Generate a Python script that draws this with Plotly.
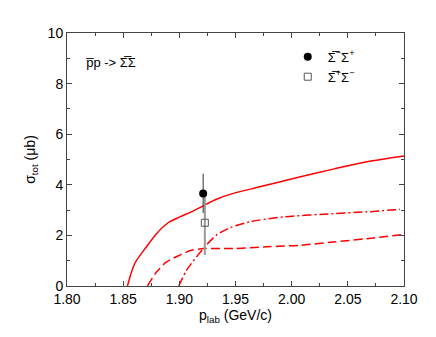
from plotly import graph_objects as go

# model curves
solid_x = [1.8538, 1.8603, 1.8707, 1.8797, 1.890, 1.9004, 1.9108, 1.9212, 1.933, 1.948,
           1.9717, 2.0014, 2.037, 2.0668, 2.1]
solid_y = [0.0, 0.89, 1.55, 2.07, 2.50, 2.73, 2.93, 3.17, 3.43, 3.66,
           3.92, 4.25, 4.62, 4.91, 5.14]

dash_x = [1.8716, 1.8797, 1.8886, 1.9004, 1.9108, 1.9227, 1.948, 1.9777, 2.0074, 2.037,
          2.0668, 2.1]
dash_y = [0.0, 0.55, 0.95, 1.22, 1.41, 1.48, 1.48, 1.55, 1.61, 1.74, 1.87, 2.04]

dashdot_x = [1.8995, 1.9064, 1.9153, 1.9227, 1.933, 1.945, 1.963, 1.9925, 2.037, 2.0668,
             2.0965]
dashdot_y = [0.0, 0.62, 1.15, 1.55, 2.01, 2.30, 2.54, 2.73, 2.86, 2.93, 3.03]

# data points
sm_sp_x = [1.9212]
sm_sp_y = [3.66]
sm_sp_err = [0.78]

sp_sm_x = [1.9227]
sp_sm_y = [2.50]
sp_sm_err = [1.27]

FONT = "Liberation Sans, Arial, sans-serif"

fig = go.Figure()

fig.add_trace(go.Scatter(x=solid_x, y=solid_y, mode="lines", showlegend=False,
                         line=dict(color="#ff0000", width=1.5, shape="spline", smoothing=0.8)))
fig.add_trace(go.Scatter(x=dash_x, y=dash_y, mode="lines", showlegend=False,
                         line=dict(color="#ff0000", width=1.5, dash="9px,4px",
                                   shape="spline", smoothing=0.8)))
fig.add_trace(go.Scatter(x=dashdot_x, y=dashdot_y, mode="lines", showlegend=False,
                         line=dict(color="#ff0000", width=1.5, dash="9px,3px,2px,3px",
                                   shape="spline", smoothing=0.8)))

fig.add_trace(go.Scatter(
    x=sp_sm_x, y=sp_sm_y, mode="markers",
    name="\u03a3\u0305<sup>+</sup>\u03a3<sup>\u2212</sup>",
    marker=dict(symbol="square-open", size=7, color="#555555", line=dict(width=1)),
    error_y=dict(type="data", array=sp_sm_err, color="#999999", thickness=2, width=0),
))
fig.add_trace(go.Scatter(
    x=sm_sp_x, y=sm_sp_y, mode="markers",
    name="\u03a3\u0305<sup>\u2212</sup>\u03a3<sup>+</sup>",
    marker=dict(symbol="circle", size=8, color="black"),
    error_y=dict(type="data", array=sm_sp_err, color="#333333", thickness=1, width=0),
))

fig.add_annotation(
    x=0.05, y=0.885, xref="paper", yref="paper", xanchor="left", yanchor="middle",
    text="p\u0305p -> \u03a3\u0305\u03a3", showarrow=False,
    font=dict(family=FONT, size=13, color="black"),
)

axis_common = dict(
    showgrid=False,
    zeroline=False,
    showline=True,
    linecolor="#444444",
    linewidth=1,
    mirror="allticks",
    ticks="inside",
    ticklen=5,
    tickcolor="#444444",
    tickfont=dict(family=FONT, size=14, color="black"),
)

# page body adds an 8px margin, so the figure is a bit smaller and shifted
fig.update_layout(
    width=428,
    height=329,
    plot_bgcolor="white",
    paper_bgcolor="white",
    margin=dict(l=59, r=32, t=25, b=51),
    xaxis=dict(
        range=[1.8, 2.1],
        dtick=0.05,
        tickformat=".2f",
        minor=dict(dtick=0.025, ticks="inside", ticklen=3, tickcolor="#444444"),
        title=dict(text="p<sub>lab</sub> (GeV/c)",
                   font=dict(family=FONT, size=14, color="black"), standoff=0),
        **axis_common,
    ),
    yaxis=dict(
        range=[0, 10],
        dtick=2,
        minor=dict(dtick=1, ticks="inside", ticklen=3, tickcolor="#444444"),
        title=dict(text="\u03c3<sub>tot</sub> (\u03bcb)",
                   font=dict(family=FONT, size=14, color="black"), standoff=8),
        **axis_common,
    ),
    legend=dict(
        x=0.655, y=0.965, xanchor="left", yanchor="top",
        bgcolor="rgba(0,0,0,0)",
        font=dict(family=FONT, size=13, color="black"),
        traceorder="reversed",
        tracegroupgap=2,
    ),
    showlegend=True,
)

fig.write_html("out.html")
